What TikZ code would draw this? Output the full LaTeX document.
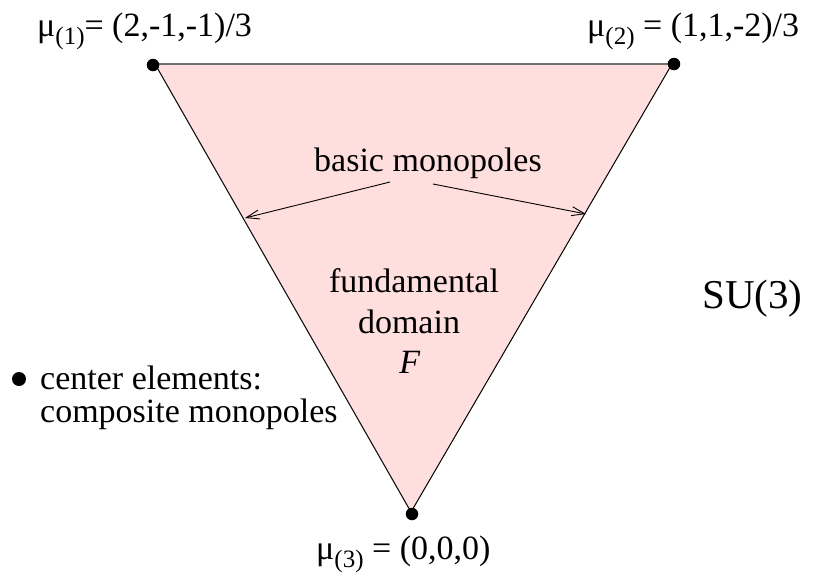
\documentclass[tikz,border=0pt]{standalone}
\usepackage{fontspec}
\setmainfont{Liberation Serif}
\usetikzlibrary{arrows.meta}
\definecolor{domainpink}{RGB}{255,222,222}
\definecolor{topgray}{RGB}{110,110,110}
\newcommand\musub[1]{μ\raisebox{-0.26em}{\fontsize{25}{25}\selectfont(#1)}}
\begin{document}
\begin{tikzpicture}[x=1pt,y=-1pt,
  lbl/.style={inner sep=0pt,font=\fontsize{34}{40}\selectfont},
  vdot/.style={circle,fill=black,inner sep=0pt,minimum size=12.5pt},
  edge/.style={black,line width=1pt},
  pointer/.style={black,line width=0.9pt,-{Straight Barb[length=13pt,width=9pt]}}]
\useasboundingbox (0,0) rectangle (816,573);
% vertices
\coordinate (v1) at (155,64);
\coordinate (v2) at (672,64);
\coordinate (v3) at (411,512);
\fill[domainpink] (v1) -- (v2) -- (v3) -- cycle;
\draw[topgray,line width=1.2pt] (v1) -- (v2);
\draw[edge] (v2) -- (v3) -- (v1);
\node[vdot] (d1) at (153,65) {};
\node[vdot] (d2) at (674,64) {};
\node[vdot] (d3) at (412,514) {};
% labels of vertices
\node[lbl,anchor=base west] (m1) at (37,36) {\musub{1}= (2,-1,-1)/3};
\node[lbl,anchor=base west] (m2) at (587,36) {\musub{2} = (1,1,-2)/3};
\node[lbl,anchor=base west] (m3) at (316,559) {\musub{3} = (0,0,0)};
% basic monopoles
\node[lbl,anchor=base] (bm) at (428,171) {basic monopoles};
\coordinate (bmL) at (390,182);
\coordinate (bmR) at (433,184);
\coordinate (eL) at (245,218);
\coordinate (eR) at (586,214);
\draw[pointer] (bmL) -- (eL);
\draw[pointer] (bmR) -- (eR);
% fundamental domain
\node[lbl,anchor=base] (fd1) at (414,292) {fundamental};
\node[lbl,anchor=base] (fd2) at (409,333) {domain};
\node[lbl,anchor=base] (fd3) at (410,373) {\textit{F}};
% SU(3)
\node[inner sep=0pt,font=\fontsize{41}{48}\selectfont,anchor=base west] (su) at (702,308) {SU(3)};
% center elements
\node[circle,fill=black,inner sep=0pt,minimum size=14pt] (bul) at (19,379) {};
\node[lbl,anchor=base west] (ce1) at (40,389) {center elements:};
\node[lbl,anchor=base west] (ce2) at (40,422) {composite monopoles};
\end{tikzpicture}
\end{document}
